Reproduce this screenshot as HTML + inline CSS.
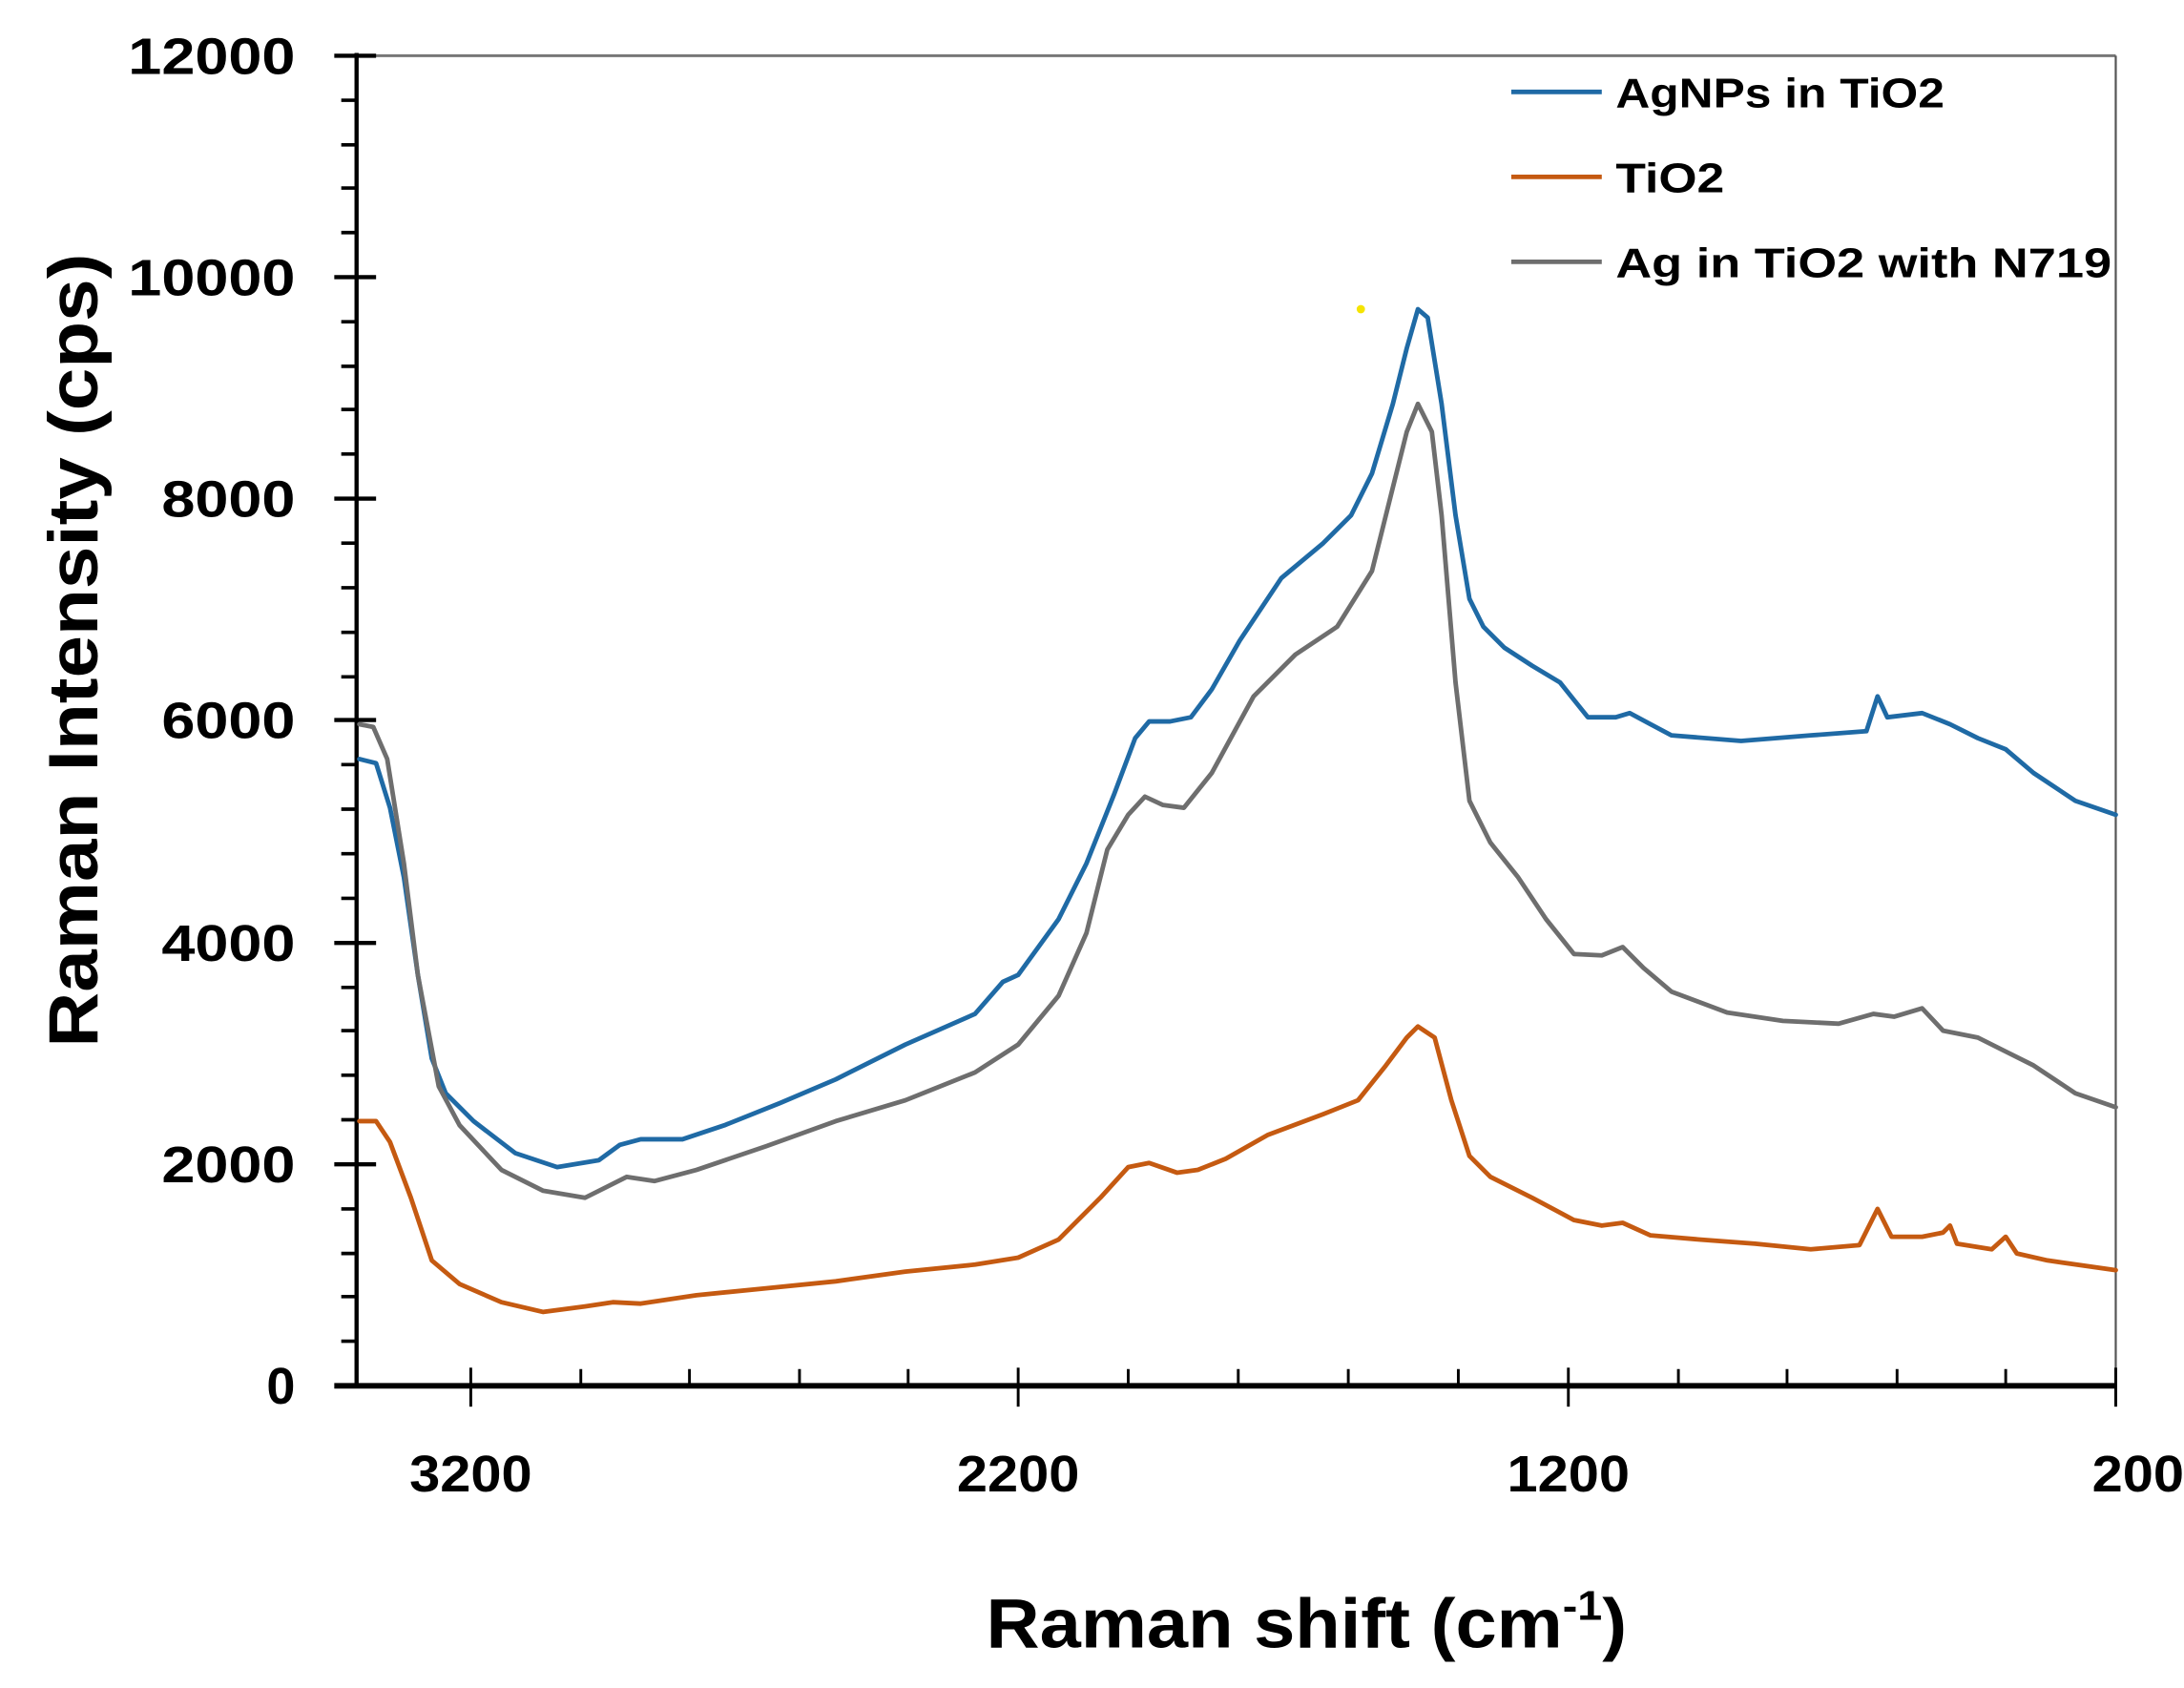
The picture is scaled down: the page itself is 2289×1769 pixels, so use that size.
<!DOCTYPE html>
<html><head><meta charset="utf-8"><style>html,body{margin:0;padding:0;background:#fff}svg{display:block}</style></head><body>
<svg width="2289" height="1769" viewBox="0 0 1568 1212" preserveAspectRatio="none" xmlns="http://www.w3.org/2000/svg" font-family="'Liberation Sans', sans-serif" font-weight="bold">
<rect width="1568" height="1212" fill="#fff"/>
<line x1="256" y1="40" x2="1519" y2="40" stroke="#777" stroke-width="2"/>
<line x1="1519" y1="40" x2="1519" y2="995" stroke="#555" stroke-width="1.5"/>
<line x1="256" y1="38" x2="256" y2="995" stroke="#000" stroke-width="3"/>
<line x1="240" y1="995" x2="1519" y2="995" stroke="#000" stroke-width="4"/>
<g stroke="#000" stroke-width="3">
<line x1="240" y1="40" x2="270" y2="40"/><line x1="240" y1="199" x2="270" y2="199"/><line x1="240" y1="358" x2="270" y2="358"/><line x1="240" y1="517" x2="270" y2="517"/><line x1="240" y1="677" x2="270" y2="677"/><line x1="240" y1="836" x2="270" y2="836"/>
</g>
<g stroke="#000" stroke-width="2">
<line x1="338" y1="982" x2="338" y2="1010"/><line x1="731" y1="982" x2="731" y2="1010"/><line x1="1126" y1="982" x2="1126" y2="1010"/><line x1="1519" y1="982" x2="1519" y2="1010"/>
</g>
<g font-size="37" text-anchor="end" fill="#000">
<text x="212" y="53" textLength="120" lengthAdjust="spacingAndGlyphs">12000</text>
<text x="212" y="212" textLength="120" lengthAdjust="spacingAndGlyphs">10000</text>
<text x="212" y="371" textLength="96" lengthAdjust="spacingAndGlyphs">8000</text>
<text x="212" y="530" textLength="96" lengthAdjust="spacingAndGlyphs">6000</text>
<text x="212" y="690" textLength="96" lengthAdjust="spacingAndGlyphs">4000</text>
<text x="212" y="849" textLength="96" lengthAdjust="spacingAndGlyphs">2000</text>
<text x="212" y="1008">0</text>
</g>
<g font-size="37" text-anchor="middle" fill="#000">
<text x="338" y="1071" textLength="88" lengthAdjust="spacingAndGlyphs">3200</text>
<text x="731" y="1071" textLength="88" lengthAdjust="spacingAndGlyphs">2200</text>
<text x="1126" y="1071" textLength="88" lengthAdjust="spacingAndGlyphs">1200</text>
<text x="1535" y="1071" textLength="66" lengthAdjust="spacingAndGlyphs">200</text>
</g>
<text x="938" y="1183" font-size="50" text-anchor="middle" textLength="460" lengthAdjust="spacingAndGlyphs">Raman shift (cm<tspan font-size="30" dy="-20">-1</tspan><tspan dy="20">)</tspan></text>
<text transform="translate(70,467) rotate(-90)" font-size="50" text-anchor="middle" textLength="570" lengthAdjust="spacingAndGlyphs">Raman Intensity (cps)</text>
<g fill="none" stroke-width="3.3" stroke-linejoin="round" stroke-linecap="round">
<polyline stroke="#1f6aa5" points="258,545 270,548 280,580 290,630 300,700 310,760 320,785 340,805 370,828 400,838 430,833 445,822 460,818 490,818 520,808 560,792 600,775 650,750 700,728 720,705 731,700 760,660 780,620 800,570 815,530 825,518 840,518 855,515 870,495 890,460 920,415 950,390 970,370 985,340 1000,290 1010,250 1018,222 1025,228 1035,290 1045,370 1055,430 1065,450 1080,465 1100,478 1120,490 1140,515 1160,515 1170,512 1185,520 1200,528 1250,532 1300,528 1340,525 1348,500 1355,515 1380,512 1400,520 1420,530 1440,538 1460,555 1490,575 1519,585"/>
<polyline stroke="#6e6e6e" points="258,520 268,522 278,545 290,620 300,700 315,780 330,808 360,840 390,855 420,860 450,845 470,848 500,840 550,823 600,805 650,790 700,770 731,750 760,715 780,670 795,610 810,585 822,572 835,578 850,580 870,555 900,500 930,470 960,450 985,410 1000,350 1010,310 1018,290 1028,310 1035,370 1045,490 1055,575 1070,605 1090,630 1110,660 1130,685 1150,686 1165,680 1180,695 1200,712 1240,727 1280,733 1320,735 1345,728 1360,730 1380,724 1395,740 1420,745 1440,755 1460,765 1490,785 1519,795"/>
<polyline stroke="#c55a11" points="258,805 270,805 280,820 295,860 310,905 330,922 360,935 390,942 420,938 440,935 460,936 500,930 550,925 600,920 650,913 700,908 731,903 760,890 790,860 810,838 825,835 845,842 860,840 880,832 910,815 950,800 975,790 995,765 1010,745 1018,737 1030,745 1042,790 1055,830 1070,845 1100,860 1130,876 1150,880 1165,878 1185,887 1220,890 1260,893 1300,897 1335,894 1348,868 1358,888 1380,888 1395,885 1400,880 1405,893 1430,897 1440,888 1448,900 1470,905 1519,912"/>
</g>
<g stroke-width="3.3">
<line x1="1085" y1="66" x2="1150" y2="66" stroke="#1f6aa5"/>
<line x1="1085" y1="127" x2="1150" y2="127" stroke="#c55a11"/>
<line x1="1085" y1="188" x2="1150" y2="188" stroke="#6e6e6e"/>
</g>
<g font-size="30" fill="#000">
<text x="1160" y="77" textLength="236" lengthAdjust="spacingAndGlyphs">AgNPs in TiO2</text>
<text x="1160" y="138" textLength="78" lengthAdjust="spacingAndGlyphs">TiO2</text>
<text x="1160" y="199" textLength="356" lengthAdjust="spacingAndGlyphs">Ag in TiO2 with N719</text>
</g>
<circle cx="977" cy="222" r="3" fill="#f5e400"/>
<g stroke="#000" stroke-width="2.5">
<line x1="245" y1="72" x2="256" y2="72"/><line x1="245" y1="104" x2="256" y2="104"/><line x1="245" y1="135" x2="256" y2="135"/><line x1="245" y1="167" x2="256" y2="167"/>
<line x1="245" y1="231" x2="256" y2="231"/><line x1="245" y1="263" x2="256" y2="263"/><line x1="245" y1="294" x2="256" y2="294"/><line x1="245" y1="326" x2="256" y2="326"/>
<line x1="245" y1="390" x2="256" y2="390"/><line x1="245" y1="422" x2="256" y2="422"/><line x1="245" y1="454" x2="256" y2="454"/><line x1="245" y1="486" x2="256" y2="486"/>
<line x1="245" y1="549" x2="256" y2="549"/><line x1="245" y1="581" x2="256" y2="581"/><line x1="245" y1="613" x2="256" y2="613"/><line x1="245" y1="645" x2="256" y2="645"/>
<line x1="245" y1="709" x2="256" y2="709"/><line x1="245" y1="740" x2="256" y2="740"/><line x1="245" y1="772" x2="256" y2="772"/><line x1="245" y1="804" x2="256" y2="804"/>
<line x1="245" y1="868" x2="256" y2="868"/><line x1="245" y1="900" x2="256" y2="900"/><line x1="245" y1="931" x2="256" y2="931"/><line x1="245" y1="963" x2="256" y2="963"/>
</g>
<g stroke="#000" stroke-width="2">
<line x1="417" y1="983" x2="417" y2="995"/><line x1="495" y1="983" x2="495" y2="995"/><line x1="574" y1="983" x2="574" y2="995"/><line x1="652" y1="983" x2="652" y2="995"/>
<line x1="810" y1="983" x2="810" y2="995"/><line x1="889" y1="983" x2="889" y2="995"/><line x1="968" y1="983" x2="968" y2="995"/><line x1="1047" y1="983" x2="1047" y2="995"/>
<line x1="1205" y1="983" x2="1205" y2="995"/><line x1="1283" y1="983" x2="1283" y2="995"/><line x1="1362" y1="983" x2="1362" y2="995"/><line x1="1440" y1="983" x2="1440" y2="995"/>
</g>
</svg>
</body></html>
